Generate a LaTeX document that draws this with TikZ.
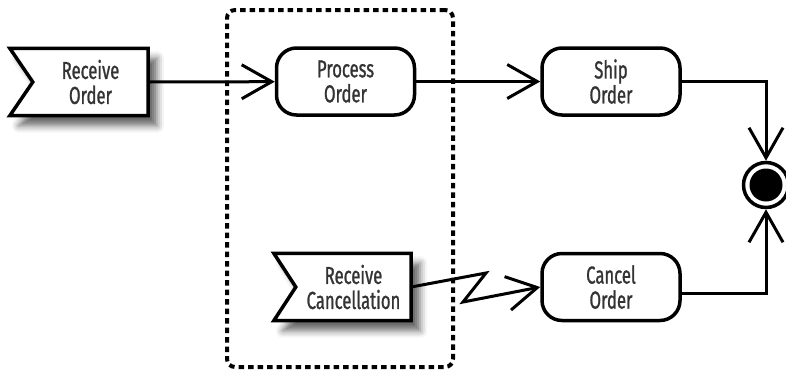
\documentclass[tikz,border=0pt]{standalone}
\usepackage{fontspec}
\setmainfont{Fira Sans}[FakeStretch=0.68,FakeBold=1]
\usetikzlibrary{arrows.meta,shadows.blur,backgrounds}
\begin{document}
\begin{tikzpicture}[x=1pt,y=-1pt,
  txt/.style={font=\fontsize{24.5}{25}\selectfont, text=black!80, align=center},
  action/.style={txt, draw, line width=3.5pt, rounded corners=20pt, minimum width=138pt, minimum height=67pt, inner sep=0pt, fill=white},
  accepttext/.style={txt, minimum width=115pt, minimum height=67pt, inner sep=0pt},
  acceptline/.style={draw, line width=3.5pt, fill=white, line join=miter, blur shadow={shadow xshift=9pt, shadow yshift=-10pt, shadow blur radius=7pt, shadow opacity=60}},
  region/.style={draw, line width=4pt, dash pattern=on 5.5pt off 4pt, rounded corners=8pt, minimum width=226pt, minimum height=357pt, inner sep=0pt},
  flow/.style={line width=3pt, -{Straight Barb[length=30pt,width=34pt,line width=3pt]}},
  finalring/.style={circle, draw, line width=3.5pt, minimum size=45pt, inner sep=0pt, fill=white},
  finalcore/.style={circle, fill=black, minimum size=33pt, inner sep=0pt},
]
\useasboundingbox (0,0) rectangle (786,373);
\node[region] (grp) at (340,188.5) {};
\node[accepttext] (ro) at (90.5,82) {Receive\\Order};
\node[action] (po) at (345.5,81.5) {Process\\Order};
\node[action] (so) at (611,81.5) {Ship\\Order};
\node[accepttext] (rc) at (353.5,287) {Receive\\Cancellation};
\node[action] (co) at (611,287) {Cancel\\Order};
\node[finalring] (fin) at (766,185) {};
\node[finalcore] (fincore) at (fin) {};
\begin{scope}[on background layer]
  \path[acceptline] ([xshift=-23pt]ro.north west) -- (ro.north east) -- (ro.south east) -- ([xshift=-23pt]ro.south west) -- (ro.west) -- cycle;
  \path[acceptline] ([xshift=-22pt]rc.north west) -- (rc.north east) -- (rc.south east) -- ([xshift=-22pt]rc.south west) -- (rc.west) -- cycle;
\end{scope}
\coordinate (z1) at (486,273);
\coordinate (z2) at (463,302);
\draw[flow] (ro.east) -- (po);
\draw[flow] (po) -- (so);
\draw[flow] (so.east) -| (fin.north);
\draw[flow] ([yshift=-6pt]co.east) -| (fin.south);
\draw[flow] (rc.east) -- (z1) -- (z2) -- (co.west);
\end{tikzpicture}
\end{document}
